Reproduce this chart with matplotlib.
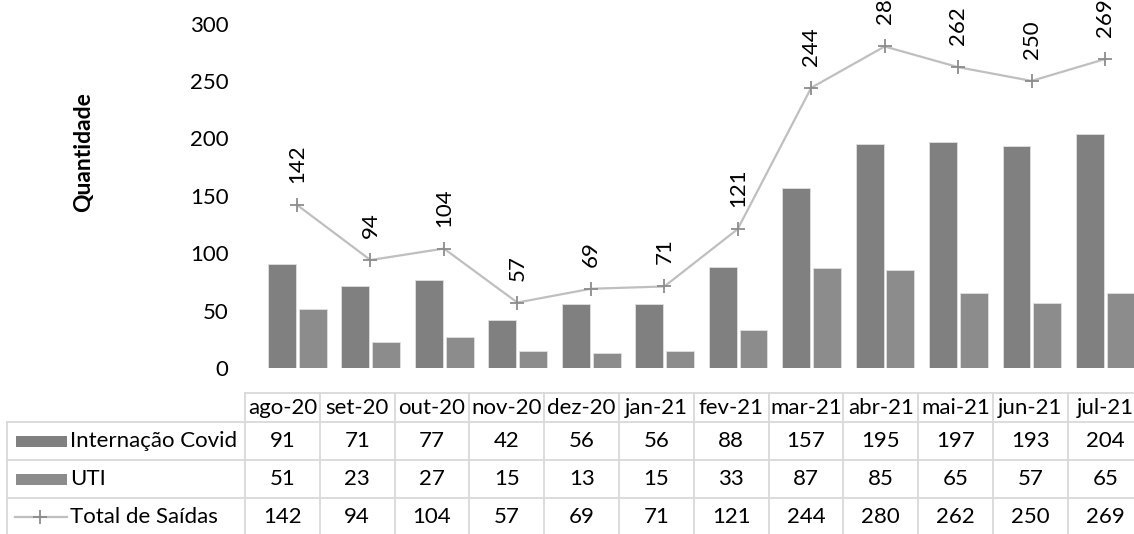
import matplotlib
matplotlib.use('Agg')
import matplotlib.pyplot as plt
from matplotlib.patches import Rectangle

plt.rcParams['font.family'] = ['Lato', 'DejaVu Sans']

meses = ['ago-20', 'set-20', 'out-20', 'nov-20', 'dez-20', 'jan-21',
         'fev-21', 'mar-21', 'abr-21', 'mai-21', 'jun-21', 'jul-21']
internacao = [91, 71, 77, 42, 56, 56, 88, 157, 195, 197, 193, 204]
uti = [51, 23, 27, 15, 13, 15, 33, 87, 85, 65, 57, 65]
total = [142, 94, 104, 57, 69, 71, 121, 244, 280, 262, 250, 269]
series_names = ['Internação Covid', 'UTI', 'Total de Saídas']
y_ticks = [0, 50, 100, 150, 200, 250, 300]

c_int = '#808080'
c_uti = '#8c8c8c'
c_line = '#bfbfbf'
c_mark = '#8c8c8c'
c_grid = '#d9d9d9'
fs = 16

W, H = 1134, 534
fig = plt.figure(figsize=(W / 100, H / 100), dpi=100)

ax = fig.add_axes([245 / W, (H - 368) / H, (1134 - 245) / W, (368 - 23.5) / H])
x = list(range(len(meses)))
ax.bar([i - 0.205 for i in x], internacao, width=0.38, color=c_int,
       edgecolor='#e0e0e0', linewidth=0.6)
ax.bar([i + 0.215 for i in x], uti, width=0.38, color=c_uti,
       edgecolor='#e0e0e0', linewidth=0.6)
ax.plot(x, total, color=c_line, lw=1.6, marker='+', ms=10, mew=1.3,
        mec=c_mark, zorder=3)
for i, v in zip(x, total):
    ax.annotate(str(v), (i, v), xytext=(0, 22), textcoords='offset pixels',
                rotation=90, ha='center', va='bottom', fontsize=fs,
                annotation_clip=False)
ax.set_xlim(-0.708, 11.395)
ax.set_ylim(0, 300)
ax.set_yticks(y_ticks)
ax.set_xticks([])
ax.tick_params(axis='y', length=0, pad=12, labelsize=fs)
for s in ax.spines.values():
    s.set_visible(False)
fig.text(84 / W, 1 - 152 / H, 'Quantidade', rotation=90, ha='center',
         va='center', fontsize=16.5, fontweight='bold')

# data table below the chart
col_w = 74.8
L = (245 - 7) / col_w
tab = fig.add_axes([7 / W, (H - 536) / H, (245 + 12 * col_w - 7) / W, 143 / H])
tab.set_xlim(-L, 12)
tab.set_ylim(143, 0)
tab.axis('off')
rows = [0, 29, 67, 105, 143]
kw = dict(color=c_grid, lw=1.3, clip_on=False)
tab.plot([0, 12], [0, 0], **kw)
for r in rows[1:]:
    tab.plot([-L, 12], [r, r], **kw)
tab.plot([-L, -L], [29, 143], **kw)
for j in range(13):
    tab.plot([j, j], [0, 143], **kw)

for j, m in enumerate(meses):
    tab.text(j + 0.5, 14.5, m, ha='center', va='center', fontsize=fs)


def px(p):
    # figure pixel -> table column units
    return (p - 7) / col_w - L


values = [internacao, uti, total]
for k, (name, vals) in enumerate(zip(series_names, values)):
    yc = (rows[k + 1] + rows[k + 2]) / 2
    for j, v in enumerate(vals):
        tab.text(j + 0.5, yc, str(v), ha='center', va='center', fontsize=fs)
    tab.text(px(70), yc, name, ha='left', va='center', fontsize=fs)
    if k < 2:
        tab.add_patch(Rectangle((px(16), yc - 5.5), px(67) - px(16), 11,
                                color=[c_int, c_uti][k], lw=0))
    else:
        tab.plot([px(15), px(67)], [yc, yc], color=c_line, lw=1.6)
        tab.plot([px(40)], [yc], marker='+', ms=10, mew=1.3, color=c_mark)

fig.savefig('out.png', dpi=100)
